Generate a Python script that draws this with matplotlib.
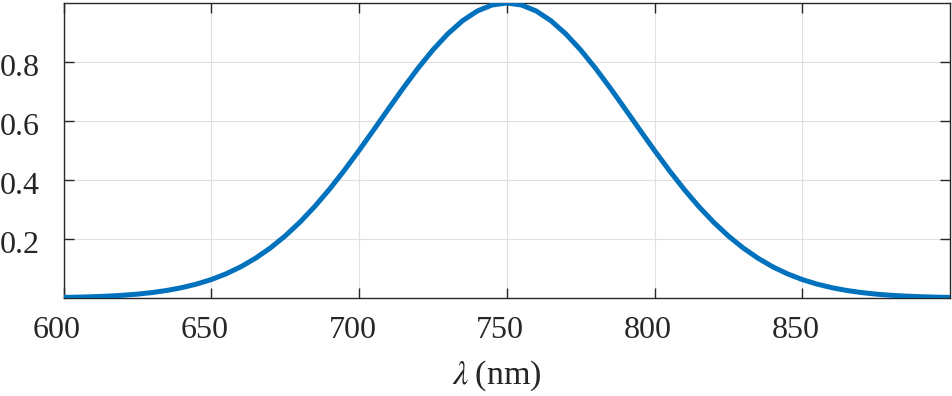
import matplotlib
matplotlib.use("Agg")
import matplotlib.pyplot as plt
import matplotlib.transforms as mtransforms

# wavelength (nm) and normalized intensity
wavelength = [600, 605, 610, 615, 620, 625, 630, 635, 640, 645, 650, 655, 660, 665, 670, 675,
              680, 685, 690, 695, 700, 705, 710, 715, 720, 725, 730, 735, 740, 745, 750,
              755, 760, 765, 770, 775, 780, 785, 790, 795, 800, 805, 810, 815, 820, 825,
              830, 835, 840, 845, 850, 855, 860, 865, 870, 875, 880, 885, 890, 895, 900]
intensity = [0.0020, 0.0029, 0.0044, 0.0064, 0.0092, 0.0131, 0.0185, 0.0256, 0.0350, 0.0471,
             0.0625, 0.0819, 0.1058, 0.1350, 0.1696, 0.2102, 0.2570, 0.3099, 0.3686, 0.4323,
             0.5000, 0.5704, 0.6417, 0.7120, 0.7792, 0.8409, 0.8950, 0.9395, 0.9727, 0.9931,
             1.0000,
             0.9931, 0.9727, 0.9395, 0.8950, 0.8409, 0.7792, 0.7120, 0.6417, 0.5704, 0.5000,
             0.4323, 0.3686, 0.3099, 0.2570, 0.2102, 0.1696, 0.1350, 0.1058, 0.0819, 0.0625,
             0.0471, 0.0350, 0.0256, 0.0185, 0.0131, 0.0092, 0.0064, 0.0044, 0.0029, 0.0020]

xticks = [600, 650, 700, 750, 800, 850]
yticks = [0.2, 0.4, 0.6, 0.8]
ytick_labels = ["0.2", "0.4", "0.6", "0.8"]

plt.rcParams['font.family'] = ['Liberation Serif', 'DejaVu Serif']
plt.rcParams['mathtext.fontset'] = 'stix'

fig = plt.figure(figsize=(9.52, 3.96), dpi=100)
ax = fig.add_axes([63.5 / 952, 98 / 396, 886.5 / 952, 295 / 396])

ax.plot(wavelength, intensity, color='#0072BD', linewidth=3.6, solid_capstyle='butt', zorder=3)

ax.set_xlim(600, 900)
ax.set_ylim(0, 1)
ax.set_xticks(xticks)
ax.set_xticklabels([str(t) for t in xticks])
ax.set_yticks(yticks)
ax.set_yticklabels(ytick_labels)

ax.grid(True, color='#e0e0e0', linewidth=0.8)
ax.set_axisbelow(True)
for s in ax.spines.values():
    s.set_color('#262626')
    s.set_linewidth(1.0)

ax.tick_params(direction='in', length=7, width=1.0, color='#262626',
               top=True, right=True, labelsize=23, labelcolor='#262626')
ax.tick_params(axis='x', pad=13)
ax.tick_params(axis='y', pad=17)

# small pixel offsets of the labels as in the reference
dx = mtransforms.ScaledTranslation(-6.5 / 100, 0, fig.dpi_scale_trans)
for lab in ax.get_xticklabels():
    lab.set_transform(lab.get_transform() + dx)
dy = mtransforms.ScaledTranslation(0, -3 / 100, fig.dpi_scale_trans)
for lab in ax.get_yticklabels():
    lab.set_transform(lab.get_transform() + dy)

ax.set_xlabel(r'$\lambda\;$(nm)', fontsize=24.5, color='#262626', labelpad=9.5)
ax.xaxis.label.set_x((496.5 - 63.5) / 886.5)

fig.savefig('out.png', dpi=100)
